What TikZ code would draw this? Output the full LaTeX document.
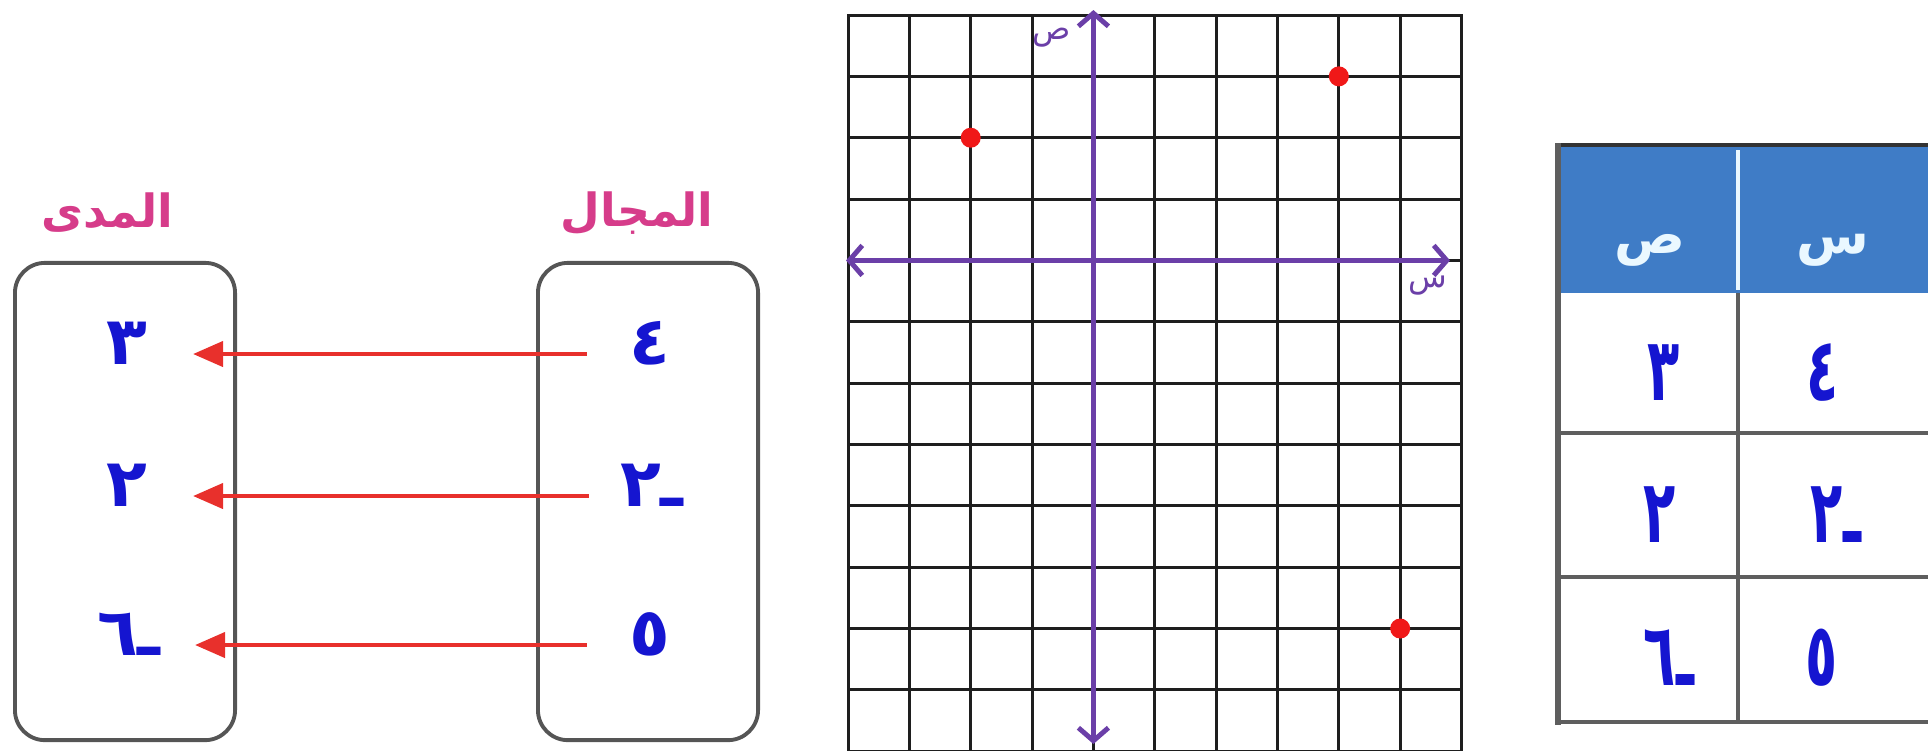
\documentclass[tikz,border=0pt]{standalone}
\usepackage{fontspec}
\usepackage{graphicx}
\usepackage{tikz}
\usetikzlibrary{arrows.meta}
\TeXXeTstate=1
\newfontfamily\arabicfont[Script=Arabic]{DejaVu Sans}
\newcommand{\artxt}[1]{\arabicfont\beginR #1\endR}
\newcommand{\tabtxt}[1]{\scalebox{0.6}[1]{\artxt{#1}}}
\definecolor{cgrid}{HTML}{1E1E1E}
\definecolor{caxis}{HTML}{6B3FA8}
\definecolor{cdot}{HTML}{F01818}
\definecolor{carrow}{HTML}{E8302C}
\definecolor{cnum}{HTML}{1515D0}
\definecolor{ctitle}{HTML}{D63C8A}
\definecolor{cbox}{HTML}{555555}
\definecolor{chead}{HTML}{3F7CC6}
\definecolor{cheadtxt}{HTML}{EAF8FF}
\definecolor{crule}{HTML}{5E5E5E}

\begin{document}
\begin{tikzpicture}[x=0.01cm, y=-0.01cm,
  gridcell/.style={draw=cgrid, line width=0.85pt},
  axisline/.style={caxis, line width=1.4pt,
    {Straight Barb[length=1.3mm,width=3mm]}-{Straight Barb[length=1.3mm,width=3mm]}},
  pointdot/.style={circle, fill=cdot, minimum size=2mm, inner sep=0pt},
  axislabel/.style={caxis, inner sep=0pt, font=\fontsize{9}{10}\selectfont},
  setbox/.style={draw=cbox, line width=1.1pt, rounded corners=3mm,
    minimum width=2.2cm, minimum height=4.77cm},
  settitle/.style={ctitle, inner sep=0pt, font=\fontsize{13}{15}\selectfont\bfseries},
  setval/.style={cnum, inner sep=0pt, text height=4.8mm, text depth=2.8mm,
    font=\fontsize{19}{20}\selectfont\bfseries},
  maparrow/.style={carrow, line width=1.2pt, -{Triangle[length=3mm,width=2.5mm]},
    shorten <=6.3mm, shorten >=6.6mm},
  headtxt/.style={cheadtxt, inner sep=0pt, font=\fontsize{15}{17}\selectfont\bfseries},
  tabval/.style={cnum, inner sep=0pt, text height=7mm, text depth=0mm,
    font=\fontsize{25}{27}\selectfont\bfseries}]
  \useasboundingbox (0,0) rectangle (1928,750);

  % Domain and range
  \node[setbox] (rangebox) at (125,501.5) {};
  \node[setbox] (domainbox) at (648,501.5) {};
  \node[settitle] (rangetitle) at (107,213) {\artxt{المدى}};
  \node[settitle] (domaintitle) at (637,213) {\artxt{المجال}};
  \node[setval] (d1) at (650,354) {\artxt{٤}};
  \node[setval] (d2) at (652,496) {\artxt{ـ٢}};
  \node[setval] (d3) at (650,645) {\artxt{٥}};
  \node[setval] (r1) at (127,354) {\artxt{٣}};
  \node[setval] (r2) at (127,496) {\artxt{٢}};
  \node[setval] (r3) at (129,645) {\artxt{ـ٦}};
  \foreach \i in {1,2,3}{
    \draw[maparrow] (d\i.center) -- (r\i.center);
  }

  % Grid: 10 columns, 12 rows, origin at (1093.4,260.4)
  \foreach \r in {0,...,11}{
    \foreach \c in {0,...,9}{
      \draw[gridcell] (848+61.35*\c, 15+61.35*\r) rectangle ++(61.35,61.35);
    }
  }
  \draw[axisline] (846,260.4) -- (1450,260.4);
  \draw[axisline] (1093.4,10) -- (1093.4,744);
  \node[axislabel] (ylabel) at (1052,38) {\artxt{ص}};
  \node[axislabel] (xlabel) at (1428,286) {\artxt{س}};
  % Points (4,3), (-2,2), (5,-6)
  \node[pointdot] (p1) at (1093.4+4*61.35, 260.4-3*61.35) {};
  \node[pointdot] (p2) at (1093.4-2*61.35, 260.4-2*61.35) {};
  \node[pointdot] (p3) at (1093.4+5*61.35, 260.4+6*61.35) {};

  % Table
  \fill[chead] (1558,145) rectangle (1930,293);
  \draw[cheadtxt, line width=1.4pt] (1738,150) -- (1738,290);
  \draw[crule, line width=0.9pt] (1738,293) -- (1738,722);
  \foreach \y in {433,577,722}{
    \draw[crule, line width=1.2pt] (1558,\y) -- (1930,\y);
  }
  \draw[black!80, line width=1.4pt] (1555,145) -- (1930,145);
  \draw[crule, line width=1.7pt] (1558,143) -- (1558,725);
  \node[headtxt] (hy) at (1650,250) {\artxt{ص}};
  \node[headtxt] (hx) at (1833,250) {\artxt{س}};
  \node[tabval] (ty1) at (1664,365) {\tabtxt{٣}};
  \node[tabval] (tx1) at (1823,365) {\tabtxt{٤}};
  \node[tabval] (ty2) at (1660,507) {\tabtxt{٢}};
  \node[tabval] (tx2) at (1836,507) {\tabtxt{ـ٢}};
  \node[tabval] (ty3) at (1669,650) {\tabtxt{ـ٦}};
  \node[tabval] (tx3) at (1822,650) {\tabtxt{٥}};
\end{tikzpicture}
\end{document}
